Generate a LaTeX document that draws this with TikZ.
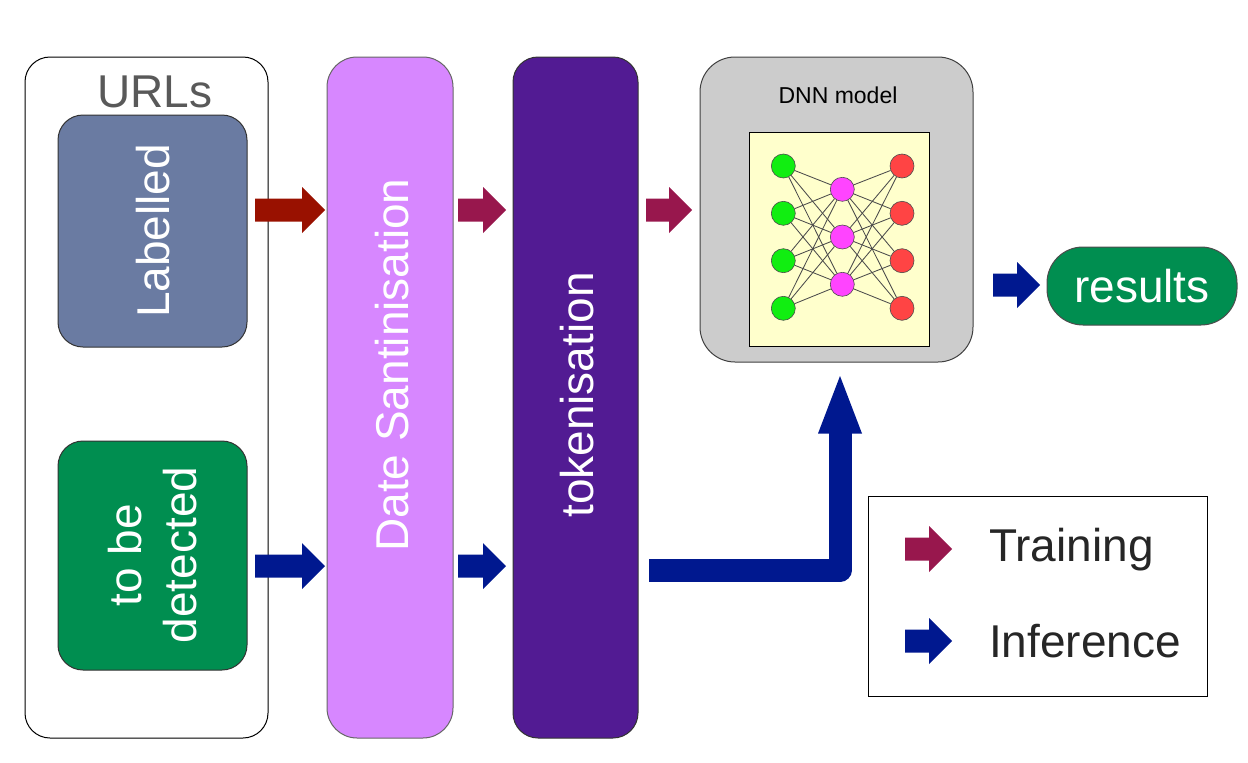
\documentclass[tikz,border=0pt]{standalone}
\usepackage{fontspec}
\setmainfont{Liberation Sans}
\definecolor{slate}{HTML}{6A7BA2}
\definecolor{grn}{HTML}{008E50}
\definecolor{lilac}{HTML}{D787FF}
\definecolor{dpurp}{HTML}{521B93}
\definecolor{lgray}{HTML}{CCCCCC}
\definecolor{pyell}{HTML}{FFFFCC}
\definecolor{trainA}{HTML}{991100}
\definecolor{trainB}{HTML}{98174D}
\definecolor{infer}{HTML}{00188F}
\definecolor{ngreen}{HTML}{11EE11}
\definecolor{nmag}{HTML}{FF44FF}
\definecolor{nred}{HTML}{FF4444}
\definecolor{txtgray}{HTML}{595959}
\newcommand{\barrow}[4]{%
  \fill[#4] (#1,{#2-11.5}) -- ({#1+#3-23},{#2-11.5}) -- ({#1+#3-23},{#2-23}) -- ({#1+#3},#2) -- ({#1+#3-23},{#2+23}) -- ({#1+#3-23},{#2+11.5}) -- (#1,{#2+11.5}) -- cycle;}
\begin{document}
\begin{tikzpicture}[x=1pt,y=-1pt,
  box/.style={inner sep=0pt,outer sep=0pt,line width=1pt},
  big/.style={font=\fontsize{46}{55}\selectfont},
  nn/.style={circle,draw=black!70,line width=0.6pt,minimum size=24pt,inner sep=0pt},
  nnedge/.style={draw=black!70,line width=0.85pt}]
\useasboundingbox (0,0) rectangle (1248,763);
% URLs container
\node[box,draw=black,fill=white,rounded corners=25pt,minimum width=243pt,minimum height=681pt] (urls) at (146.5,397.5) {};
\node[big,text=txtgray,inner sep=0pt] (urlst) at (155,92) {URLs};
\node[box,draw=black!80,fill=slate,rounded corners=25pt,minimum width=189pt,minimum height=232pt] (lab) at (152.5,231) {};
\node[big,text=white,rotate=90,inner sep=0pt] (labt) at (153,231) {Labelled};
\node[box,draw=black!80,fill=grn,rounded corners=25pt,minimum width=189pt,minimum height=229pt] (det) at (152.5,555.5) {};
\node[big,text=white,rotate=90,align=center,inner sep=0pt] (dett) at (153,555) {to be\\detected};
% Date Santinisation
\node[box,draw=black!60,fill=lilac,rounded corners=30pt,minimum width=126pt,minimum height=681pt] (date) at (390,397.5) {};
\node[big,text=white,rotate=90,inner sep=0pt] (datet) at (392,365) {Date Santinisation};
% tokenisation
\node[box,draw=black!80,fill=dpurp,rounded corners=25pt,minimum width=125pt,minimum height=681pt] (tok) at (575.5,397.5) {};
\node[big,text=white,rotate=90,inner sep=0pt] (tokt) at (577,395) {tokenisation};
% DNN model
\node[box,draw=black!75,fill=lgray,rounded corners=35pt,minimum width=273pt,minimum height=305pt] (dnn) at (836.5,209.5) {};
\node[font=\fontsize{23}{27}\selectfont,inner sep=0pt] (dnnt) at (838,95) {DNN model};
\node[box,draw=black,fill=pyell,minimum width=180pt,minimum height=214pt] (panel) at (839,239) {};
\foreach \i/\y in {1/166,2/213.3,3/260.7,4/308.3}{
  \node[nn,fill=ngreen] (i\i) at (783.3,\y) {};
  \node[nn,fill=nred] (o\i) at (902,\y) {};
}
\foreach \j/\y in {1/189.3,2/237,3/284.3}{
  \node[nn,fill=nmag] (h\j) at (842.3,\y) {};
}
\foreach \i in {1,...,4}{\foreach \j in {1,2,3}{
  \draw[nnedge] (i\i) -- (h\j);
  \draw[nnedge] (h\j) -- (o\i);
}}
% results
\node[box,draw=black!70,fill=grn,rounded corners=36pt,minimum width=190pt,minimum height=78pt] (res) at (1142,286) {};
\node[big,text=white,inner sep=0pt] (rest) at (1142,286) {results};
% legend
\node[box,draw=black,fill=white,minimum width=339pt,minimum height=200pt] (leg) at (1037.5,596) {};
\node[big,text=black!85,anchor=west,inner sep=0pt] (trt) at (989,550) {Training};
\node[big,text=black!85,anchor=west,inner sep=0pt] (inft) at (989,641) {Inference};
% block arrows
\barrow{255}{210}{70}{trainA}
\barrow{458}{210}{48}{trainB}
\barrow{646}{210}{46}{trainB}
\barrow{255}{566}{70}{infer}
\barrow{458}{566}{48}{infer}
\barrow{993}{285}{47}{infer}
\barrow{905}{549}{47}{trainB}
\barrow{905}{641}{47}{infer}
% L-shaped inference arrow from tokenisation to DNN
\coordinate (lstart) at (649,570);
\coordinate (lcorner) at (840,570);
\coordinate (lend) at (840,433);
\draw[infer,line width=23pt,line join=round] (lstart) -- (lcorner) -- (lend);
\fill[infer] (818,433.5) -- (862,433.5) -- (840,376) -- cycle;
\end{tikzpicture}
\end{document}
